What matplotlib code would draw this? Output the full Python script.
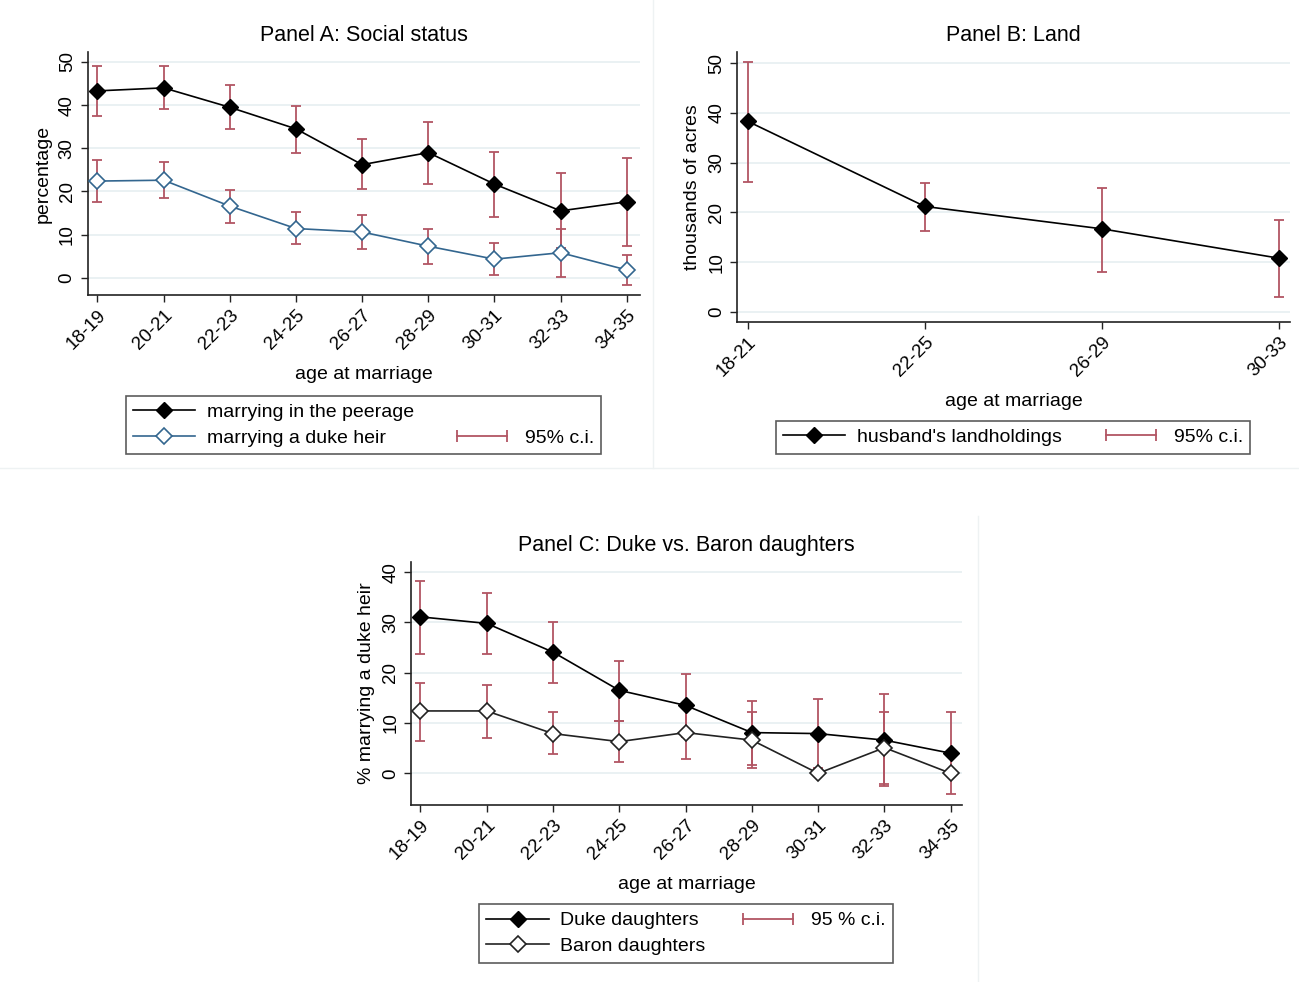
import matplotlib
matplotlib.use('Agg')
import matplotlib.pyplot as plt
from matplotlib.lines import Line2D
from matplotlib.legend_handler import HandlerLine2D

plt.rcParams['font.family'] = ['Liberation Sans', 'DejaVu Sans']

# Panel A: social status
ages_a = ['18-19', '20-21', '22-23', '24-25', '26-27', '28-29', '30-31', '32-33', '34-35']
peerage = [43.3, 44.0, 39.5, 34.5, 26.2, 29.0, 21.7, 15.5, 17.6]
peerage_lo = [37.5, 39.0, 34.4, 28.9, 20.5, 21.7, 14.0, 6.8, 7.3]
peerage_hi = [49.0, 49.0, 44.6, 39.8, 32.1, 36.2, 29.2, 24.2, 27.8]
heir = [22.4, 22.6, 16.6, 11.4, 10.6, 7.3, 4.3, 5.8, 1.8]
heir_lo = [17.6, 18.4, 12.7, 7.9, 6.6, 3.1, 0.6, 0.1, -1.7]
heir_hi = [27.2, 26.8, 20.4, 15.2, 14.5, 11.3, 8.0, 11.2, 5.2]

# Panel B: land
ages_b = ['18-21', '22-25', '26-29', '30-33']
land = [38.3, 21.2, 16.7, 10.8]
land_lo = [26.2, 16.3, 8.0, 3.0]
land_hi = [50.2, 26.0, 25.0, 18.5]

# Panel C: duke vs baron daughters
ages_c = ['18-19', '20-21', '22-23', '24-25', '26-27', '28-29', '30-31', '32-33', '34-35']
duke = [31.1, 29.8, 24.1, 16.5, 13.5, 8.1, 7.9, 6.6, 4.0]
duke_lo = [23.7, 23.7, 18.0, 10.4, 7.2, 1.7, 1.1, -2.1, -4.2]
duke_hi = [38.3, 35.9, 30.0, 22.4, 19.8, 14.3, 14.7, 15.7, 12.2]
baron = [12.4, 12.4, 7.9, 6.3, 8.1, 6.6, 0.0, 5.1, 0.0]
baron_lo = [6.5, 7.1, 3.8, 2.3, 2.9, 1.0, 0.0, -2.6, 0.0]
baron_hi = [17.9, 17.5, 12.1, 10.4, 13.2, 12.1, 0.0, 12.1, 0.0]

ci_col = '#b25563'
blue = '#33668f'
grid_col = '#e8f0f2'


def style_axes(ax, labels, ylim, yticks, xlim, ylabel):
    ax.set_xlim(*xlim)
    ax.set_ylim(*ylim)
    ax.set_xticks(range(len(labels)))
    ax.set_xticklabels(labels, rotation=45, ha='right', rotation_mode='anchor')
    ax.set_yticks(yticks)
    ax.set_yticklabels([str(t) for t in yticks], rotation=90, va='center')
    for s in ['top', 'right']:
        ax.spines[s].set_visible(False)
    for s in ['left', 'bottom']:
        ax.spines[s].set_color('#222222')
        ax.spines[s].set_linewidth(1.2)
    ax.tick_params(labelsize=13.5, length=5, width=1, color='#222222')
    ax.yaxis.grid(True, color=grid_col, linewidth=1.3)
    ax.set_axisbelow(True)
    ax.set_xlabel('age at marriage', fontsize=14, labelpad=9)
    ax.set_ylabel(ylabel, fontsize=14, labelpad=5)


def ci(ax, x, lo, hi):
    mid = [(a + b) / 2 for a, b in zip(lo, hi)]
    err = [[m - a for m, a in zip(mid, lo)], [b - m for m, b in zip(mid, hi)]]
    ax.errorbar(x, mid, yerr=err, fmt='none', ecolor=ci_col, elinewidth=1.3,
                capsize=3.5, capthick=1.3, zorder=2)


fig = plt.figure(figsize=(12.99, 9.82), dpi=100)

# separators between graph panels
fig.add_artist(Line2D([0.5027, 0.5027], [1.0, 0.523], color='#eef2f3', lw=1))
fig.add_artist(Line2D([0.0, 1.0], [0.5235, 0.5235], color='#eef2f3', lw=1))
fig.add_artist(Line2D([0.7529, 0.7529], [0.475, 0.0], color='#eef2f3', lw=1))

ci_handle = Line2D([], [], color=ci_col, lw=1.3, marker='|', markersize=9, markeredgewidth=1.3)
blank = Line2D([], [], alpha=0)
hmap = {ci_handle: HandlerLine2D(numpoints=2)}
leg_kw = dict(loc='center', handler_map=hmap, fontsize=14, frameon=True, fancybox=False,
              edgecolor='#333333', handlelength=3.2, borderpad=0.38, labelspacing=0.42,
              handletextpad=0.6)
mk = dict(marker='D', markersize=8, lw=1.2, zorder=3)

# Panel A
axA = fig.add_axes([0.0674, 0.6996, 0.4253, 0.2474])
xa = list(range(len(ages_a)))
ci(axA, xa, peerage_lo, peerage_hi)
ci(axA, xa, heir_lo, heir_hi)
hA1, = axA.plot(xa, peerage, color='black', markerfacecolor='black', **mk)
hA2, = axA.plot(xa, heir, color=blue, markerfacecolor='white', markeredgewidth=1.2, **mk)
style_axes(axA, ages_a, (-4, 52.3), [0, 10, 20, 30, 40, 50], (-0.15, 8.2), 'percentage')
axA.set_title('Panel A: Social status', fontsize=15.5, pad=8)
fig.legend([hA1, hA2, blank, ci_handle],
           ['marrying in the peerage', 'marrying a duke heir', '', '95% c.i.'],
           ncol=2, bbox_to_anchor=(0.2798, 0.567), columnspacing=1.9,
           **leg_kw).get_frame().set_linewidth(1.2)

# Panel B
axB = fig.add_axes([0.5674, 0.6721, 0.4256, 0.2749])
xb = list(range(len(ages_b)))
ci(axB, xb, land_lo, land_hi)
hB, = axB.plot(xb, land, color='black', markerfacecolor='black', **mk)
style_axes(axB, ages_b, (-2, 52.2), [0, 10, 20, 30, 40, 50], (-0.06, 3.06), 'thousands of acres')
axB.set_title('Panel B: Land', fontsize=15.5, pad=8)
fig.legend([hB, ci_handle], ["husband's landholdings", '95% c.i.'],
           ncol=2, bbox_to_anchor=(0.7798, 0.5545), columnspacing=1.95,
           **leg_kw).get_frame().set_linewidth(1.2)

# Panel C
axC = fig.add_axes([0.3164, 0.1802, 0.4242, 0.2475])
xc = list(range(len(ages_c)))
ci(axC, xc, duke_lo, duke_hi)
ci(axC, xc, baron_lo, baron_hi)
hC1, = axC.plot(xc, duke, color='black', markerfacecolor='black', **mk)
hC2, = axC.plot(xc, baron, color='#222222', markerfacecolor='white', markeredgewidth=1.2, **mk)
style_axes(axC, ages_c, (-6.3, 42), [0, 10, 20, 30, 40], (-0.14, 8.17), '% marrying a duke heir')
axC.set_title('Panel C: Duke vs. Baron daughters', fontsize=15.5, pad=8)
fig.legend([hC1, hC2, ci_handle, blank],
           ['Duke daughters', 'Baron daughters', '95 % c.i.', ''],
           ncol=2, bbox_to_anchor=(0.528, 0.0494), columnspacing=1.6,
           **leg_kw).get_frame().set_linewidth(1.2)

fig.savefig('out.png', dpi=100)
